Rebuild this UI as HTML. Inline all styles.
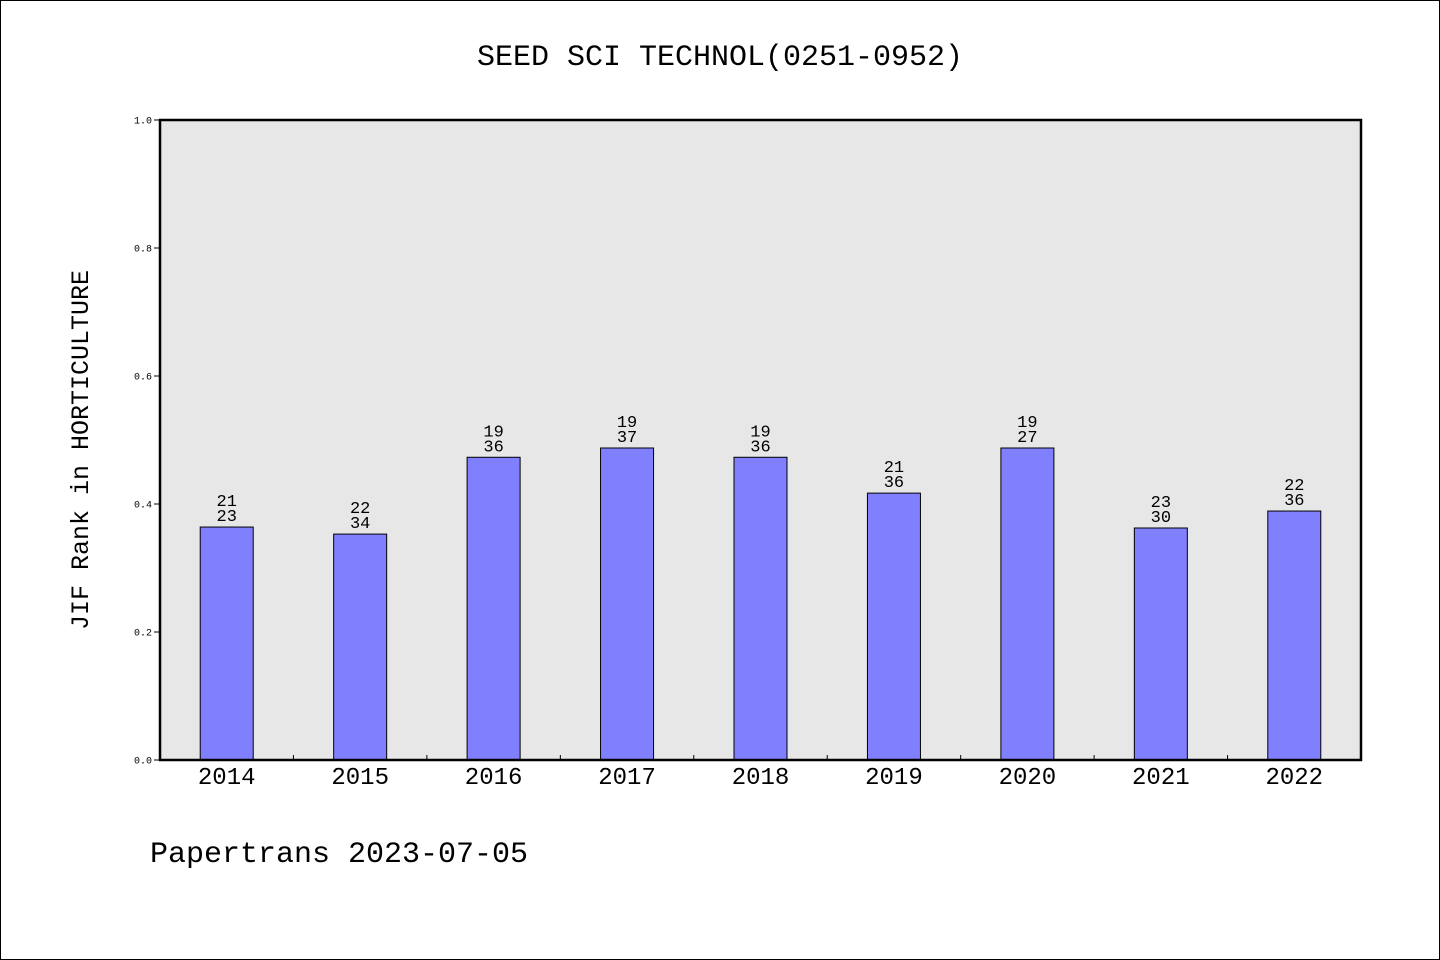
<!DOCTYPE html>
<html><head><meta charset="utf-8"><style>
html,body{margin:0;padding:0;background:#fff;}
svg{display:block;font-family:"Liberation Mono","WenQuanYi Zen Hei",monospace;}
</style></head><body>
<svg id="chart" width="1440" height="960">
<rect x="0.5" y="0.5" width="1439" height="959" fill="#fff" stroke="#000"/>
<text x="720" y="65" font-size="30" text-anchor="middle">SEED SCI TECHNOL(0251-0952)</text>
<rect x="160" y="120" width="1201" height="640" fill="#e7e7e7"/>
<g id="bars"></g>
<rect x="160" y="120" width="1201" height="640" fill="none" stroke="#000" stroke-width="2.5"/>
<text transform="translate(88,450) rotate(-90)" font-size="25" text-anchor="middle">JIF Rank in HORTICULTURE</text>
<text x="150" y="862" font-size="30">Papertrans 2023-07-05</text>
</svg>
<script>
const years=["2014","2015","2016","2017","2018","2019","2020","2021","2022"];
const values=[0.364,0.353,0.473,0.4875,0.473,0.417,0.4875,0.3625,0.389];
const ranks=["21","22","19","19","19","21","19","23","22"];
const totals=["23","34","36","37","36","36","27","30","36"];
const yTicks=["0.0","0.2","0.4","0.6","0.8","1.0"];
const NS="http://www.w3.org/2000/svg";
const X0=160,W=1201,Y0=760,H=640;
const band=W/years.length;
const xs=i=>X0+band*(i+0.5);
const ys=v=>Y0-v*H;
const g=document.getElementById('bars');
function mk(t,a){const e=document.createElementNS(NS,t);for(const k in a)e.setAttribute(k,a[k]);return e;}
yTicks.forEach(t=>{
  const y=ys(parseFloat(t));
  const l=mk('line',{x1:X0-6,x2:X0,y1:y,y2:y,stroke:'#000','stroke-width':1});
  
  
  g.appendChild(l);
  const tx=mk('text',{x:X0-8,y:y+3.5,'font-size':10,'text-anchor':'end'});
  tx.textContent=t;
  
  
  g.appendChild(tx);
});
for(let i=1;i<years.length;i++){
  const x=X0+band*i;
  const l=mk('line',{x1:x,x2:x,y1:Y0-5,y2:Y0,stroke:'#000','stroke-width':1});
  
  
  g.appendChild(l);
}
years.forEach((yr,i)=>{
  const cx=xs(i),bw=53,top=ys(values[i]);
  const r=mk('rect',{x:cx-bw/2,y:top,width:bw,height:Y0-top,fill:'#8080ff',stroke:'#000','stroke-width':1});
  
  
  g.appendChild(r);
  const a=mk('text',{x:cx,y:top-21,'font-size':17,'text-anchor':'middle'});
  a.textContent=ranks[i];
  
  
  g.appendChild(a);
  const b=mk('text',{x:cx,y:top-6,'font-size':17,'text-anchor':'middle'});
  b.textContent=totals[i];
  
  
  g.appendChild(b);
  const xl=mk('text',{x:cx,y:784,'font-size':24,'text-anchor':'middle'});
  xl.textContent=yr;
  
  
  g.appendChild(xl);
});
</script>
</body></html>
